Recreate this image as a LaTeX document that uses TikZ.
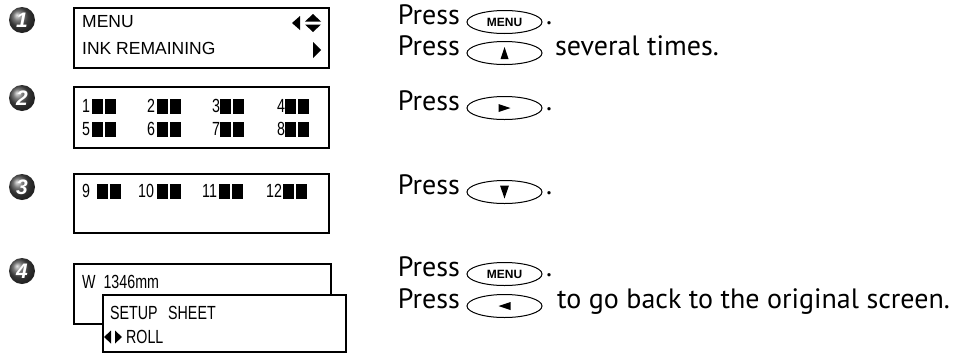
\documentclass[tikz,border=0pt]{standalone}
\usepackage{fontspec}
\setmainfont{Liberation Sans}
\newfontfamily\pressfont{PT Sans}
\usetikzlibrary{shapes.geometric}
\begin{document}
\begin{tikzpicture}[x=1pt,y=-1pt,
  lcd/.style={draw, line width=1.8pt, fill=white, anchor=north west, inner sep=0},
  lcdtxt/.style={font=\fontsize{17.5}{18}\selectfont, anchor=west, inner sep=0},
  nartxt/.style={font=\fontsize{19}{19}\selectfont, anchor=west, inner sep=0},
  stepball/.style={circle, ball color=black!70, minimum size=26pt, inner sep=0,
     text=white, font=\bfseries\itshape\fontsize{21}{21}\selectfont},
  btn/.style={ellipse, draw, line width=1pt, fill=white, minimum width=75pt,
     minimum height=23pt, inner sep=0, font=\bfseries\fontsize{12}{12}\selectfont},
  press/.style={font=\pressfont\fontsize{28}{28}\selectfont, inner sep=0},
]
\useasboundingbox (0,0) rectangle (953,354);
\newcommand\blocks[2]{\fill (#1,#2-7.5) rectangle (#1+11,#2+7.5); \fill (#1+13,#2-7.5) rectangle (#1+24,#2+7.5);}
\newcommand\nar[1]{\scalebox{0.75}[1]{#1}}

% step balls
\node[stepball] (s1) at (22,20) {1};
\node[stepball] (s2) at (22,98) {2};
\node[stepball] (s3) at (22,187) {3};
\node[stepball] (s4) at (22,271) {4};

% box 1
\node[lcd, minimum width=255pt, minimum height=60pt] (b1) at (73,7) {};
\node[lcdtxt] (t1a) at (82,22) {MENU};
\node[lcdtxt] (t1b) at (82,48) {INK REMAINING};
\fill (292,23) -- (300,16) -- (300,30) -- cycle;
\fill (305,21.5) -- (313,14) -- (321,21.5) -- cycle;
\fill (305,24.5) -- (313,32) -- (321,24.5) -- cycle;
\fill (313,42) -- (321,50) -- (313,58) -- cycle;

% box 2
\node[lcd, minimum width=255pt, minimum height=61pt] (b2) at (73,86) {};
\node[nartxt] (n1) at (82,106) {\nar{1}};
\node[nartxt] (n2) at (147,106) {\nar{2}};
\node[nartxt] (n3) at (212,106) {\nar{3}};
\node[nartxt] (n4) at (277,106) {\nar{4}};
\node[nartxt] (n5) at (82,129) {\nar{5}};
\node[nartxt] (n6) at (147,129) {\nar{6}};
\node[nartxt] (n7) at (212,129) {\nar{7}};
\node[nartxt] (n8) at (277,129) {\nar{8}};
\blocks{92}{106}\blocks{157}{106}\blocks{220}{106}\blocks{285}{106}
\blocks{92}{129}\blocks{157}{129}\blocks{220}{129}\blocks{285}{129}

% box 3
\node[lcd, minimum width=255pt, minimum height=59pt] (b3) at (73,173) {};
\node[nartxt] (n9) at (82,191) {\nar{9}};
\node[nartxt] (n10) at (138,191) {\nar{10}};
\node[nartxt] (n11) at (202,191) {\nar{11}};
\node[nartxt] (n12) at (266,191) {\nar{12}};
\blocks{97}{191}\blocks{157}{191}\blocks{219}{191}\blocks{283}{191}

% box 4
\node[lcd, minimum width=257pt, minimum height=60pt] (b4) at (73,263) {};
\node[nartxt] (w) at (82,282) {\nar{W\ \ 1346mm}};
\node[lcd, minimum width=243pt, minimum height=57pt] (b5) at (102,294) {};
\node[nartxt] (setup) at (110,313) {\nar{SETUP}};
\node[nartxt] (sheet) at (168,313) {\nar{SHEET}};
\fill (104,337) -- (111,330.5) -- (111,343.5) -- cycle;
\fill (122,337) -- (115,330.5) -- (115,343.5) -- cycle;
\node[nartxt] (roll) at (126,337) {\nar{ROLL}};

% right column
\node[press, anchor=mid east] (p1) at (460,22) {Press};
\node[btn] (k1) at (504.5,22) {MENU};
\node[press, anchor=mid west] (d1) at (546,22) {.};

\node[press, anchor=mid east] (p2) at (460,53) {Press};
\node[btn] (k2) at (504.5,53) {};
\fill[shift={(k2.center)}] (0,-6) -- (4,6) -- (-4,6) -- cycle;
\node[press, anchor=mid west] (d2) at (555,53) {several times.};

\node[press, anchor=mid east] (p3) at (460,108) {Press};
\node[btn] (k3) at (504.5,108) {};
\fill[shift={(k3.center)}] (6,0) -- (-6,-4) -- (-6,4) -- cycle;
\node[press, anchor=mid west] (d3) at (546,108) {.};

\node[press, anchor=mid east] (p4) at (460,192) {Press};
\node[btn] (k4) at (504.5,192) {};
\fill[shift={(k4.center)}] (0,6.5) -- (4.5,-6.5) -- (-4.5,-6.5) -- cycle;
\node[press, anchor=mid west] (d4) at (546,192) {.};

\node[press, anchor=mid east] (p5) at (460,274) {Press};
\node[btn] (k5) at (504.5,274) {MENU};
\node[press, anchor=mid west] (d5) at (546,274) {.};

\node[press, anchor=mid east] (p6) at (460,306) {Press};
\node[btn] (k6) at (504.5,306) {};
\fill[shift={(k6.center)}] (-6,0) -- (6,-4) -- (6,4) -- cycle;
\node[press, anchor=mid west] (d6) at (557,306) {to go back to the original screen.};
\end{tikzpicture}
\end{document}
